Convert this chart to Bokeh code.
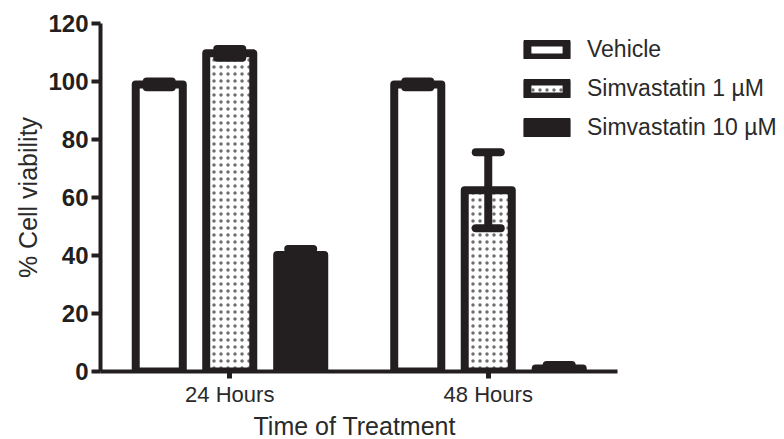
from bokeh.plotting import figure
from bokeh.models import (Range1d, FixedTicker, Whisker, TeeHead, ColumnDataSource,
                          Legend, LegendItem, Title)
from bokeh.embed import file_html
from bokeh.resources import INLINE

# ---- data ----
groups = ["24 Hours", "48 Hours"]
group_pos = [1, 2]
series = ["Vehicle", "Simvastatin 1 \u00b5M", "Simvastatin 10 \u00b5M"]
vehicle = [99.0, 99.0]
vehicle_err = [1.0, 1.0]
simva1 = [109.7, 62.5]
simva1_err = [1.5, 13.1]
simva10 = [40.2, 1.0]
simva10_err = [2.0, 1.2]
y_ticks = [0, 20, 40, 60, 80, 100, 120]

INK = "#231f20"
TXT = "#2a2a2a"
FONT = "Liberation Sans"

p = figure(width=784, height=439, output_backend="svg", toolbar_location=None,
           x_range=Range1d(0.5, 3.146), y_range=Range1d(0, 120),
           min_border_left=100, min_border_right=0, min_border_top=23,
           min_border_bottom=0)
p.outline_line_color = None
p.grid.visible = False
p.background_fill_color = "white"
p.border_fill_color = "white"

offsets = [-0.2727, 0.0, 0.2745]
bar_w = 0.182
styles = [
    dict(fill_color="white"),
    dict(fill_color="white", hatch_pattern="dot", hatch_color=INK, hatch_scale=7,
         hatch_weight=1, hatch_alpha=0.65),
    dict(fill_color=INK),
]
vals = [vehicle, simva1, simva10]
errs = [vehicle_err, simva1_err, simva10_err]

renderers = []
for k in range(3):
    xs = [g + offsets[k] for g in group_pos]
    src = ColumnDataSource(dict(x=xs, top=vals[k],
                                upper=[v + e for v, e in zip(vals[k], errs[k])],
                                lower=[v - e for v, e in zip(vals[k], errs[k])]))
    r = p.vbar(x="x", top="top", bottom=0, width=bar_w, source=src,
               line_color=INK, line_width=8, line_join="round", **styles[k])
    renderers.append(r)
    w = Whisker(base="x", upper="upper", lower="lower", source=src, level="overlay",
                line_color=INK, line_width=8,
                upper_head=TeeHead(size=25, line_width=8, line_color=INK, line_cap="round"),
                lower_head=TeeHead(size=25, line_width=8, line_color=INK, line_cap="round"))
    p.add_layout(w)

# axes
p.xaxis.ticker = FixedTicker(ticks=group_pos)
p.xaxis.major_label_overrides = {g: lab for g, lab in zip(group_pos, groups)}
p.xaxis.bounds = (0.5, 2.5)
p.yaxis.ticker = FixedTicker(ticks=y_ticks)
p.xaxis.minor_tick_line_color = None
p.yaxis.minor_tick_line_color = None
for ax in (p.xaxis, p.yaxis):
    ax.axis_line_color = INK
    ax.axis_line_width = 4
    ax.major_tick_line_color = INK
    ax.major_tick_in = 0
    ax.major_label_text_font = FONT
    ax.major_label_text_color = INK

p.xaxis.major_label_text_font_size = "22px"
p.xaxis.major_label_text_color = TXT
p.xaxis.major_tick_line_width = 5
p.xaxis.major_tick_out = 7
p.xaxis.major_label_standoff = 3
p.yaxis.major_tick_line_width = 4
p.yaxis.major_tick_out = 9
p.yaxis.major_label_standoff = 3
p.yaxis.major_label_text_font_size = "24px"
p.yaxis.major_label_text_font_style = "bold"

# axis titles as panel titles so they can be placed like the reference
xt = Title(text="Time of Treatment", align="left", offset=153, standoff=0,
           text_font=FONT, text_font_size="25px", text_font_style="normal",
           text_color=TXT)
p.add_layout(xt, "below")
yt = Title(text="% Cell viability", align="center", offset=-12, standoff=8,
           text_font=FONT, text_font_size="25px", text_font_style="normal",
           text_color=TXT)
p.add_layout(yt, "left")

legend = Legend(items=[LegendItem(label=s, renderers=[r]) for s, r in zip(series, renderers)],
                location=(422, 230), padding=0, margin=0, spacing=12,
                glyph_width=49, glyph_height=19, label_height=19, label_standoff=16,
                label_text_font=FONT, label_text_font_size="23px", label_text_color=TXT,
                border_line_color=None, background_fill_alpha=0)
p.add_layout(legend)

open("out.html", "w").write(file_html(p, INLINE))
